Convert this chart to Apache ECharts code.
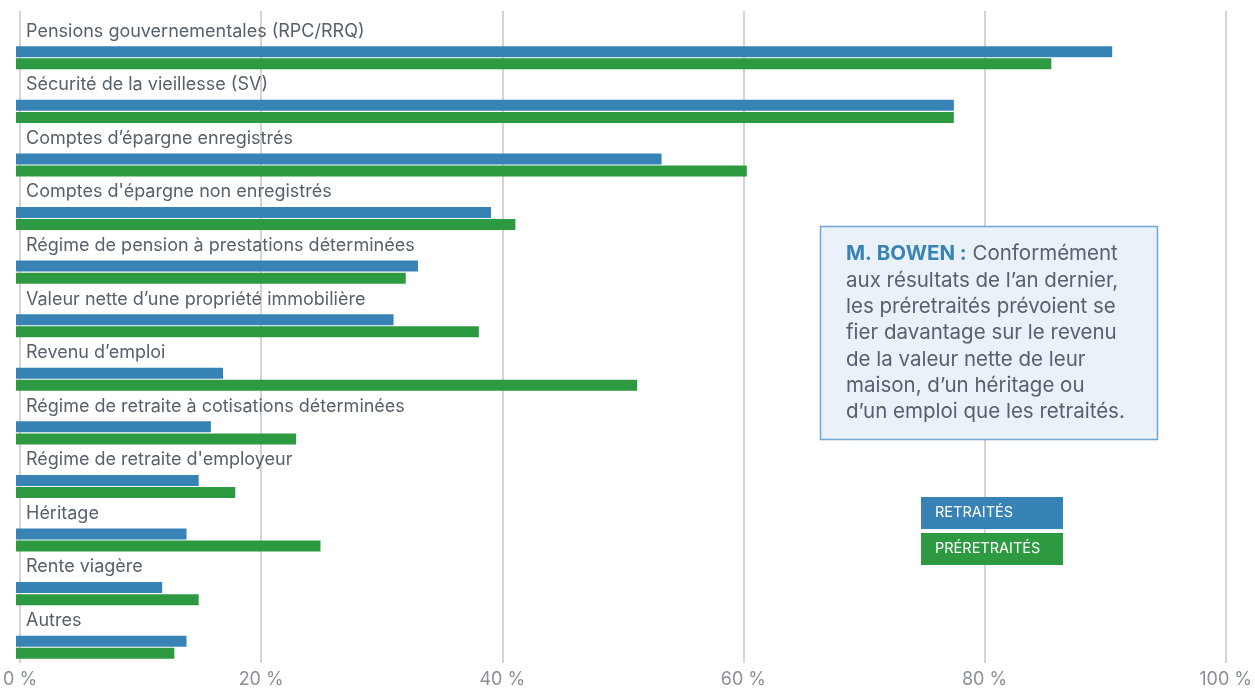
<!DOCTYPE html>
<html>
<head>
<meta charset="utf-8">
<script src="https://cdn.jsdelivr.net/npm/echarts@6/dist/echarts.min.js"></script>
<style>
html, body { margin: 0; padding: 0; background: #fff; }
#chart { width: 1255px; height: 690px; }
</style>
</head>
<body>
<div id="chart"></div>
<script>
// sources de revenu à la retraite
const categories = [
  'Pensions gouvernementales (RPC/RRQ)',
  'Sécurité de la vieillesse (SV)',
  'Comptes d’épargne enregistrés',
  'Comptes d\'épargne non enregistrés',
  'Régime de pension à prestations déterminées',
  'Valeur nette d’une propriété immobilière',
  'Revenu d’emploi',
  'Régime de retraite à cotisations déterminées',
  'Régime de retraite d\'employeur',
  'Héritage',
  'Rente viagère',
  'Autres'
]
const retraites = [90, 77, 53, 39, 33, 31, 17, 16, 15, 14, 12, 14]
const preretraites = [85, 77, 60, 41, 32, 38, 51, 23, 18, 25, 15, 13]
const xTicks = [0, 20, 40, 60, 80, 100]

const blue = '#3783b6'
const green = '#2d9a42'
const font = 'Inter'

const chart = echarts.init(document.getElementById('chart'))

const option = {
  animation: false,
  textStyle: { fontFamily: font },
  grid: [
    // grille des lignes verticales + étiquettes
    { left: 16, right: 21, top: 11, bottom: 27 },
    // grille des barres
    { left: 16, right: 21, top: 31, bottom: 16 }
  ],
  xAxis: [
    {
      gridIndex: 0,
      type: 'value',
      min: xTicks[0],
      max: xTicks[xTicks.length - 1],
      interval: 20,
      axisLine: { show: false },
      axisTick: { show: false },
      axisLabel: {
        color: '#8a9099',
        fontSize: 18,
        margin: 8,
        fontFamily: font,
        formatter: v => v + ' %'
      },
      splitLine: { show: true, lineStyle: { color: '#d4d4d4', width: 2 } }
    },
    {
      gridIndex: 1,
      type: 'value',
      min: 0,
      max: 100,
      show: false
    }
  ],
  yAxis: [
    {
      gridIndex: 0,
      type: 'value',
      min: 0,
      max: 1,
      show: false
    },
    {
      gridIndex: 1,
      type: 'category',
      inverse: true,
      data: categories,
      show: false
    }
  ],
  series: [
    {
      name: 'RETRAITÉS',
      type: 'bar',
      xAxisIndex: 1,
      yAxisIndex: 1,
      data: retraites,
      barWidth: 11,
      barGap: '10%',
      itemStyle: { color: blue },
      label: {
        show: true,
        position: [10, -6],
        align: 'left',
        verticalAlign: 'bottom',
        formatter: '{b}',
        color: '#56616d',
        fontSize: 18,
        fontFamily: font
      }
    },
    {
      name: 'PRÉRETRAITÉS',
      type: 'bar',
      xAxisIndex: 1,
      yAxisIndex: 1,
      data: preretraites,
      barWidth: 11,
      itemStyle: { color: green }
    }
  ],
  graphic: [
    {
      type: 'rect',
      shape: { x: 820.5, y: 226.5, width: 337, height: 213 },
      style: { fill: '#eaf1f8', stroke: '#6fa5cf', lineWidth: 1.5 },
      z: 100
    },
    {
      type: 'text',
      x: 846,
      y: 241,
      z: 101,
      style: {
        text: '{b|M. BOWEN :} Conformément\naux résultats de l’an dernier,\nles préretraités prévoient se\nfier davantage sur le revenu\nde la valeur nette de leur\nmaison, d’un héritage ou\nd’un emploi que les retraités.',
        fontFamily: font,
        fontSize: 20.5,
        lineHeight: 26.3,
        fill: '#56616d',
        rich: {
          b: { fontFamily: font, fontSize: 20.5, fontWeight: 'bold', fill: blue, color: blue, lineHeight: 26.3 }
        }
      }
    },
    {
      type: 'rect',
      shape: { x: 921, y: 497, width: 142, height: 32 },
      style: { fill: blue },
      z: 100
    },
    {
      type: 'text',
      x: 935,
      y: 513,
      z: 101,
      style: { text: 'RETRAITÉS', fill: '#fff', fontSize: 14.5, fontFamily: font, verticalAlign: 'middle' }
    },
    {
      type: 'rect',
      shape: { x: 921, y: 533, width: 142, height: 32 },
      style: { fill: green },
      z: 100
    },
    {
      type: 'text',
      x: 935,
      y: 549,
      z: 101,
      style: { text: 'PRÉRETRAITÉS', fill: '#fff', fontSize: 14.5, fontFamily: font, verticalAlign: 'middle' }
    }
  ]
}

chart.setOption(option)
</script>
</body>
</html>
